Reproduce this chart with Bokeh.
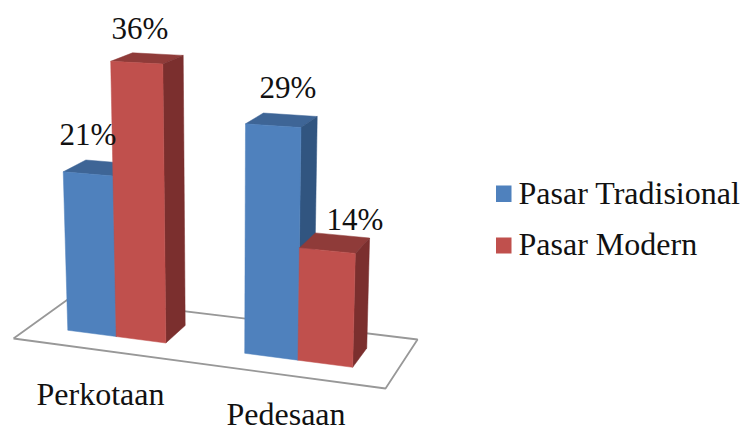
import numpy as np
from bokeh.core.properties import value
from bokeh.embed import file_html
from bokeh.models import ColumnDataSource
from bokeh.plotting import figure
from bokeh.resources import INLINE

categories = ["Perkotaan", "Pedesaan"]
series_names = ["Pasar Tradisional", "Pasar Modern"]
pasar_tradisional = [21, 29]
pasar_modern = [36, 14]

WIDTH, HEIGHT = 744, 431
SERIF = value("Liberation Serif")

FRONT = {"Pasar Tradisional": "#4f81bd", "Pasar Modern": "#c0504d"}
TOP = {"Pasar Tradisional": "#3e6596", "Pasar Modern": "#8f3b39"}
SIDE = {"Pasar Tradisional": "#315580", "Pasar Modern": "#7b2f2e"}

# Floor plane perspective: unit square (u across, v into the page) to page pixels
FLOOR_A, FLOOR_B, FLOOR_C = 335.8, 62.65, 13.0
FLOOR_D, FLOOR_E, FLOOR_F = 13.5, -17.03, 338.0
FLOOR_G, FLOOR_H = -0.0941, 0.0807
PX_PER_PERCENT = 7.65
VANISH_X, VANISH_DIST = 225.0, 5500.0

CATEGORY_CENTERS = [0.25, 0.75]
BAR_DEPTH = (0.30, 0.70)
BAR_WIDTH = 0.1415


def project(u, v, pct=0.0):
    """Page position of a point on the floor raised by a percentage value."""
    w = FLOOR_G * u + FLOOR_H * v + 1
    x = (FLOOR_A * u + FLOOR_B * v + FLOOR_C) / w
    y = (FLOOR_D * u + FLOOR_E * v + FLOOR_F) / w
    rise = pct * PX_PER_PERCENT / w
    return x + (x - VANISH_X) * rise / VANISH_DIST, y - rise


def face(corners):
    pts = [project(*c) for c in corners]
    return [p[0] for p in pts], [p[1] for p in pts]


p = figure(
    width=WIDTH, height=HEIGHT, x_range=(0, WIDTH), y_range=(HEIGHT, 0),
    output_backend="svg", toolbar_location=None, min_border=0,
    outline_line_color=None, background_fill_color="white",
)
p.axis.visible = False
p.grid.visible = False

# Floor outline
floor_x, floor_y = face([(0, 0), (1, 0), (1, 1), (0, 1), (0, 0)])
p.line(floor_x, floor_y, line_color="#989898", line_width=1.8)

# Bars, painted from left to right so that each hides the one before it
xs, ys, colors = [], [], []
for c, center in enumerate(CATEGORY_CENTERS):
    for s, (name, values) in enumerate(zip(series_names, [pasar_tradisional, pasar_modern])):
        u0 = center + (s - 1) * BAR_WIDTH
        u1 = u0 + BAR_WIDTH
        v0, v1 = BAR_DEPTH
        h = values[c]
        faces = [
            ([(u0, v0, h), (u1, v0, h), (u1, v1, h), (u0, v1, h)], TOP[name]),
            ([(u1, v0, 0), (u1, v1, 0), (u1, v1, h), (u1, v0, h)], SIDE[name]),
            ([(u0, v0, 0), (u1, v0, 0), (u1, v0, h), (u0, v0, h)], FRONT[name]),
        ]
        for corners, color in faces:
            fx, fy = face(corners)
            xs.append(fx)
            ys.append(fy)
            colors.append(color)
p.patches(xs="xs", ys="ys", fill_color="colors", line_color="colors", line_width=0.5,
          source=ColumnDataSource(dict(xs=xs, ys=ys, colors=colors)))

# Value labels
label_x = [87.5, 139.5, 287.5, 354.5]
label_y = [134, 28, 87, 219]
label_values = [pasar_tradisional[0], pasar_modern[0], pasar_tradisional[1], pasar_modern[1]]
p.text(x=label_x, y=label_y, text=[f"{v}%" for v in label_values], text_font=SERIF,
       text_font_size="31px", text_color="#111111", text_align="center",
       text_baseline="alphabetic")

# Category labels
p.text(x=[36, 226], y=[393, 413], text=categories, text_font=SERIF, text_font_size="32px",
       text_color="#111111", text_align="left", text_baseline="alphabetic")

# Legend
legend_y = [192, 243]
p.quad(left=[495.5, 495.5], right=[511, 511], top=[185, 237], bottom=[201.5, 253],
       fill_color=[FRONT[n] for n in series_names], line_color=None)
p.text(x=[518, 518], y=legend_y, text=series_names, text_font=SERIF, text_font_size="32px",
       text_color="#111111", text_align="left", text_baseline="alphabetic")

open("out.html", "w").write(file_html(p, INLINE))
